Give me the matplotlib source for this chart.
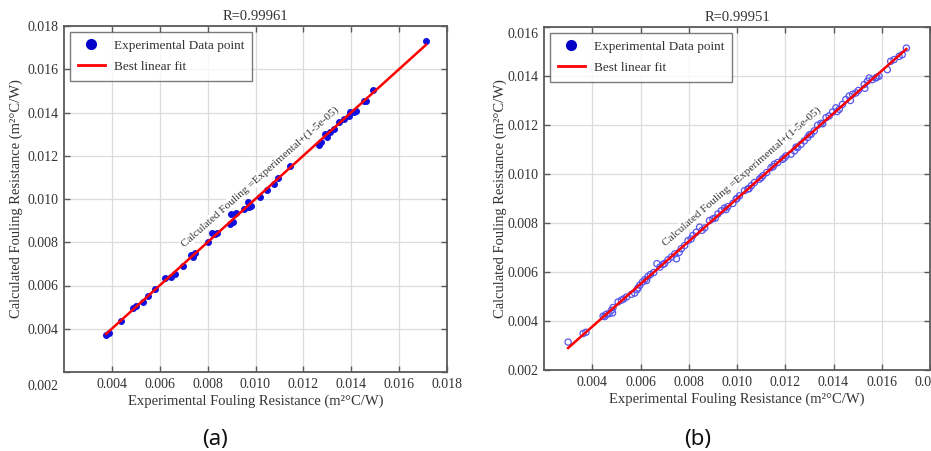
import numpy as np
import matplotlib
matplotlib.use("Agg")
import matplotlib.pyplot as plt
from matplotlib.lines import Line2D
from matplotlib.transforms import ScaledTranslation

# ---------------- data ----------------
exp_a = [0.00376, 0.00390, 0.00438, 0.00488, 0.00502, 0.00532, 0.00553, 0.00582,
         0.00621, 0.00647, 0.00663, 0.00697, 0.00731, 0.00738, 0.00748, 0.00800,
         0.00818, 0.00832, 0.00839, 0.00894, 0.00904, 0.00899, 0.00920, 0.00950,
         0.00967, 0.00971, 0.00981, 0.01020, 0.01048, 0.01078, 0.01096, 0.01145,
         0.01264, 0.01273, 0.01291, 0.01298, 0.01312, 0.01329, 0.01347, 0.01371,
         0.01389, 0.01396, 0.01410, 0.01421, 0.01454, 0.01463, 0.01489, 0.01712]
calc_a = [0.00371, 0.00382, 0.00435, 0.00495, 0.00505, 0.00526, 0.00551, 0.00586,
          0.00635, 0.00640, 0.00655, 0.00689, 0.00740, 0.00732, 0.00751, 0.00800,
          0.00843, 0.00840, 0.00843, 0.00886, 0.00895, 0.00931, 0.00934, 0.00954,
          0.00988, 0.00963, 0.00969, 0.01009, 0.01043, 0.01071, 0.01097, 0.01151,
          0.01248, 0.01262, 0.01302, 0.01286, 0.01308, 0.01326, 0.01355, 0.01369,
          0.01385, 0.01402, 0.01403, 0.01408, 0.01455, 0.01455, 0.01505, 0.01731]

exp_b = [0.00300, 0.00362, 0.00374, 0.00445, 0.00459, 0.00470, 0.00480, 0.00486,
         0.00484, 0.00507, 0.00521, 0.00542, 0.00563, 0.00576, 0.00586, 0.00597,
         0.00608, 0.00618, 0.00631, 0.00641, 0.00655, 0.00668, 0.00680, 0.00693,
         0.00714, 0.00728, 0.00742, 0.00749, 0.00769, 0.00783, 0.00797, 0.00817,
         0.00831, 0.00845, 0.00866, 0.00886, 0.00900, 0.00921, 0.00935, 0.00948,
         0.00962, 0.00983, 0.00997, 0.01010, 0.01031, 0.01045, 0.01059, 0.01072,
         0.01093, 0.01107, 0.01123, 0.01141, 0.01155, 0.01169, 0.01189, 0.01203,
         0.01224, 0.01238, 0.01251, 0.01265, 0.01279, 0.01293, 0.01307, 0.01320,
         0.01334, 0.01348, 0.01369, 0.01382, 0.01396, 0.01410, 0.01424, 0.01437,
         0.01451, 0.01465, 0.01479, 0.01493, 0.01503, 0.01527, 0.01541, 0.01548,
         0.01561, 0.01575, 0.01589, 0.01623, 0.01637, 0.01651, 0.01672, 0.01685,
         0.01702,
         0.00452, 0.00530, 0.00590, 0.00625, 0.00700, 0.00760, 0.00810, 0.00855,
         0.00910, 0.00955, 0.01000, 0.01050, 0.01100, 0.01150, 0.01195, 0.01245,
         0.01300, 0.01355, 0.01415, 0.01470, 0.01530, 0.01580]
calc_b = [0.00314, 0.00349, 0.00354, 0.00420, 0.00428, 0.00430, 0.00444, 0.00455,
          0.00433, 0.00478, 0.00485, 0.00498, 0.00509, 0.00514, 0.00528, 0.00546,
          0.00559, 0.00569, 0.00582, 0.00590, 0.00598, 0.00634, 0.00620, 0.00631,
          0.00650, 0.00661, 0.00674, 0.00654, 0.00695, 0.00708, 0.00728, 0.00749,
          0.00762, 0.00783, 0.00780, 0.00810, 0.00817, 0.00837, 0.00850, 0.00861,
          0.00867, 0.00880, 0.00898, 0.00911, 0.00932, 0.00939, 0.00952, 0.00965,
          0.00979, 0.00993, 0.01006, 0.01026, 0.01040, 0.01047, 0.01060, 0.01074,
          0.01081, 0.01094, 0.01108, 0.01121, 0.01135, 0.01149, 0.01162, 0.01176,
          0.01199, 0.01207, 0.01230, 0.01237, 0.01253, 0.01270, 0.01264, 0.01284,
          0.01304, 0.01318, 0.01325, 0.01331, 0.01341, 0.01365, 0.01379, 0.01392,
          0.01385, 0.01392, 0.01399, 0.01426, 0.01460, 0.01467, 0.01480, 0.01487,
          0.01514,
          0.00418, 0.00490, 0.00535, 0.00565, 0.00635, 0.00680, 0.00735, 0.00770,
          0.00820, 0.00855, 0.00900, 0.00940, 0.00985, 0.01030, 0.01065, 0.01110,
          0.01160, 0.01205, 0.01255, 0.01300, 0.01350, 0.01395]

titles = ["R=0.99961", "R=0.99951"]
panel_labels = ["(a)", "(b)"]
annot_text = "Calculated Fouling =Experimental+(1-5e-05)"
xlabel = "Experimental Fouling Resistance (m²°C/W)"
ylabel = "Calculated Fouling Resistance (m²°C/W)"
legend_labels = ["Experimental Data point", "Best linear fit"]

xticks = [0.004, 0.006, 0.008, 0.010, 0.012, 0.014, 0.016, 0.018]
yticks_a = [0.002, 0.004, 0.006, 0.008, 0.010, 0.012, 0.014, 0.016, 0.018]
yticks_b = [0.002, 0.004, 0.006, 0.008, 0.010, 0.012, 0.014, 0.016]

# ---------------- style ----------------
plt.rcParams['font.family'] = ['Liberation Serif', 'DejaVu Serif']
TXT = '#333333'
SPINE = '#5a5a5a'
GRID = '#dcdcdc'

fig = plt.figure(figsize=(9.31, 4.51), dpi=100)
ax_a = fig.add_axes([64/931, 79/451, 383/931, 346/451])
ax_b = fig.add_axes([544/931, 81/451, 386/931, 343/451])


def style_axes(ax, yt, ylim, annot_xy, annot_rot, ylabelpad):
    ax.set_xlim(0.002, 0.018)
    ax.set_ylim(*ylim)
    ax.set_xticks(xticks)
    ax.set_yticks(yt)
    ax.set_xticklabels([("%.3f" % t) for t in xticks])
    ax.set_yticklabels([("%.3f" % t) for t in yt])
    ax.grid(True, color=GRID, linewidth=0.9)
    ax.set_axisbelow(True)
    for s in ax.spines.values():
        s.set_color(SPINE)
        s.set_linewidth(1.3)
    ax.tick_params(direction='in', length=4, width=1, color=SPINE,
                   top=True, right=True, labelsize=10, labelcolor=TXT, pad=4)
    ax.set_xlabel(xlabel, fontsize=10.5, color=TXT, labelpad=3)
    ax.set_ylabel(ylabel, fontsize=10.5, color=TXT, labelpad=ylabelpad)
    ax.text(annot_xy[0], annot_xy[1], annot_text, rotation=annot_rot,
            rotation_mode='anchor', ha='left', va='bottom', fontsize=8.2,
            color=TXT, transform=ax.transData,
            bbox=dict(facecolor='white', edgecolor='none', pad=0.5))


def add_legend(ax):
    handles = [Line2D([], [], linestyle='none', marker='o', markersize=7,
                      markerfacecolor='#0000c8', markeredgecolor='#0000c8'),
               Line2D([], [], color='red', linewidth=2)]
    leg = ax.legend(handles, legend_labels, loc='upper left', fontsize=9.5,
                    frameon=True, fancybox=False, borderaxespad=0.45,
                    handlelength=2.05, handletextpad=0.7, labelspacing=0.65,
                    borderpad=0.6)
    leg.get_frame().set_edgecolor(SPINE)
    leg.get_frame().set_linewidth(1.0)
    for t in leg.get_texts():
        t.set_color(TXT)


def shift_label(lab, dx_px, dy_px):
    lab.set_transform(lab.get_transform() +
                      ScaledTranslation(dx_px/100, dy_px/100, fig.dpi_scale_trans))


# panel (a)
xa = np.array(exp_a); ya = np.array(calc_a)
ax_a.scatter(xa, ya, s=16, color='#1010e0', edgecolors='#1010e0', zorder=3)
pa = np.polyfit(xa, ya, 1)
lx = np.array([xa.min(), xa.max()])
ax_a.plot(lx, np.polyval(pa, lx), color='red', linewidth=1.8, zorder=4)
style_axes(ax_a, yticks_a, (0.002, 0.018), (0.0071, 0.0077), 41.5, 3)
add_legend(ax_a)
ax_a.set_title(titles[0], fontsize=10.5, color=TXT, pad=4)
# the 0.002 y label sits lower in the reference
shift_label(ax_a.get_yticklabels()[0], 0, -13)

# panel (b)
xb = np.array(exp_b); yb = np.array(calc_b)
ax_b.scatter(xb, yb, s=20, facecolors='none', edgecolors='#5555ee', linewidths=0.9, zorder=3)
pb = np.polyfit(xb, yb, 1)
lxb = np.array([xb.min(), xb.max()])
ax_b.plot(lxb, np.polyval(pb, lxb), color='red', linewidth=1.8, zorder=4)
style_axes(ax_b, yticks_b, (0.002, 0.016), (0.0071, 0.0070), 41, 0)
add_legend(ax_b)
ax_b.set_title(titles[1], fontsize=10.5, color=TXT, pad=4)
shift_label(ax_b.get_yticklabels()[-1], 0, -6)

fig.text(215/931, 1 - 439/451, panel_labels[0], fontsize=16, ha='center', va='center',
         family='Noto Sans', color='#111111')
fig.text(698/931, 1 - 439/451, panel_labels[1], fontsize=16, ha='center', va='center',
         family='Noto Sans', color='#111111')

fig.savefig('out.png', dpi=100)
